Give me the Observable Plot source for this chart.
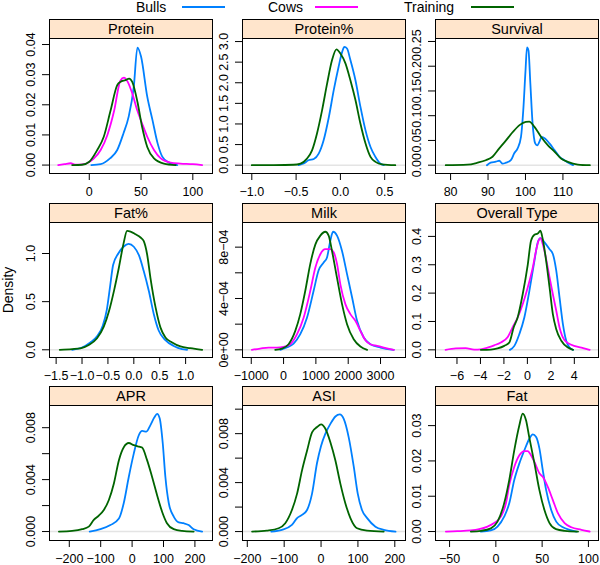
<!DOCTYPE html>
<html><head><meta charset="utf-8">
<script src="https://cdn.jsdelivr.net/npm/d3@7"></script>
<script src="https://cdn.jsdelivr.net/npm/@observablehq/plot@0.6"></script>
<style>
body{margin:0;background:#fff;}
#wrap{position:relative;width:600px;height:565px;background:#fff;font-family:"Liberation Sans",Arial,sans-serif;overflow:hidden;color:#000}
.strip{position:absolute;box-sizing:border-box;height:20px;background:#ffe5cc;border:1px solid #000;font-size:14.5px;text-align:center;line-height:18px;}
.panel{position:absolute}
.leg{position:absolute;font-size:14px;line-height:14px;top:0px;white-space:nowrap}
.legline{position:absolute;height:2px;top:6px}
#ylab{position:absolute;left:7.5px;top:289.5px;font-size:14px;transform:translate(-50%,-50%) rotate(-90deg);white-space:nowrap}
</style></head>
<body>
<div id="wrap"></div>
<script>
// ---------- data ----------
const panelNames = ["Protein", "Protein%", "Survival", "Fat%", "Milk", "Overall Type", "APR", "ASI", "Fat"];
const seriesNames = ["Bulls", "Cows", "Training"];
const seriesColors = ["#0080ff", "#ff00ff", "#006400"];

// density curves: [value, density]
const proteinBulls = [[2,0],[11,0.0003],[20,0.0022],[27,0.005],[33,0.0105],[38,0.016],[43,0.026],[46.5,0.039],[50,0.036],[56,0.0227],[61,0.015],[66,0.0072],[70.5,0.0028],[77,0.0008],[85,0]];
const proteinCows = [[-30,0],[-24,0.0003],[-18,0.0006],[-13,0.0001],[-5,0.0003],[4.5,0.0022],[11,0.005],[17.5,0.01],[24,0.018],[30,0.028],[33.5,0.029],[37,0.0277],[41.5,0.0238],[46.5,0.018],[51,0.0138],[56,0.0094],[62.5,0.005],[69,0.0022],[78.5,0.0008],[88,0.0005],[100,0.0003],[109,0]];
const proteinTraining = [[-16.5,0],[-7,0.0001],[0,0.0011],[7.7,0.005],[14,0.0094],[20.5,0.018],[27,0.0265],[30,0.0276],[35,0.0282],[38.5,0.0287],[41.5,0.0276],[46.5,0.021],[51,0.0127],[56,0.006],[62.5,0.0022],[72,0.0005],[83.5,0]];

const proteinPctBulls = [[-0.47,0],[-0.415,0.04],[-0.36,0.12],[-0.3,0.15],[-0.245,0.28],[-0.19,0.6],[-0.13,1.17],[-0.075,1.82],[-0.02,2.39],[0.02,2.75],[0.045,2.87],[0.075,2.83],[0.113,2.55],[0.17,2.06],[0.226,1.42],[0.283,0.85],[0.34,0.44],[0.396,0.2],[0.45,0.04],[0.49,0]];
const proteinPctTraining = [[-1.0,0],[-0.75,0.002],[-0.53,0.01],[-0.45,0.04],[-0.377,0.16],[-0.32,0.36],[-0.264,0.77],[-0.207,1.33],[-0.15,1.98],[-0.094,2.55],[-0.045,2.81],[0,2.71],[0.057,2.47],[0.113,2.06],[0.17,1.58],[0.226,1.01],[0.283,0.53],[0.34,0.2],[0.396,0.08],[0.47,0.02],[0.62,0]];

const survivalBulls = [[89.7,0],[90.7,0.005],[92.1,0.007],[93,0.009],[93.9,0.003],[94.8,0.005],[96.1,0.01],[97,0.024],[97.9,0.034],[98.8,0.057],[99.4,0.11],[100,0.19],[100.4,0.238],[100.8,0.232],[101.3,0.165],[101.9,0.084],[102.6,0.044],[103.1,0.04],[103.7,0.047],[104.3,0.057],[105.2,0.054],[106.4,0.044],[107.8,0.03],[109.1,0.017],[110.4,0.01],[111.8,0.0034],[112.7,0]];
const survivalTraining = [[78.7,0],[84.5,0.001],[87.2,0.005],[89.4,0.01],[91.2,0.017],[93,0.034],[94.8,0.05],[96.6,0.067],[98.4,0.081],[100.1,0.0876],[101,0.088],[102.4,0.0775],[104.2,0.057],[106,0.04],[107.8,0.027],[109.5,0.0135],[111.3,0.0067],[114,0.0013],[117.2,0]];

const fatPctBulls = [[-1.19,0],[-1.0,0.024],[-0.84,0.076],[-0.71,0.14],[-0.6,0.25],[-0.52,0.42],[-0.46,0.65],[-0.4,0.88],[-0.3,1.0],[-0.2,1.07],[-0.1,1.1],[0,1.07],[0.1,0.98],[0.19,0.82],[0.29,0.61],[0.386,0.37],[0.48,0.2],[0.61,0.1],[0.77,0.04],[0.93,0.007],[1.03,0]];
const fatPctTraining = [[-1.43,0],[-1.19,0.007],[-1.03,0.015],[-0.87,0.05],[-0.71,0.12],[-0.58,0.24],[-0.48,0.4],[-0.38,0.62],[-0.29,0.85],[-0.2,1.1],[-0.13,1.235],[-0.064,1.228],[0.032,1.2],[0.13,1.166],[0.19,1.13],[0.257,0.99],[0.32,0.75],[0.42,0.44],[0.515,0.23],[0.61,0.128],[0.74,0.076],[0.9,0.035],[1.09,0.017],[1.32,0]];

const milkBulls = [[-100,0],[100,1.8e-5],[310,4.9e-5],[517,1.22e-4],[724,2.5e-4],[930,4.6e-4],[1085,6.2e-4],[1240,6.8e-4],[1344,7.2e-4],[1447,8.5e-4],[1530,9.2e-4],[1654,8.9e-4],[1809,7.7e-4],[1964,5.9e-4],[2119,4.1e-4],[2274,2.26e-4],[2481,9.6e-5],[2687,4.4e-5],[2997,1.8e-5],[3411,0]];
const milkCows = [[-982,0],[-724,1e-5],[-465,1.8e-5],[-207,1.8e-5],[0,2.3e-5],[207,4.4e-5],[413,1.2e-4],[620,2.5e-4],[827,4.6e-4],[982,6.4e-4],[1137,7.45e-4],[1292,7.84e-4],[1447,7.84e-4],[1550,7.6e-4],[1654,6.7e-4],[1757,5.1e-4],[1912,3.56e-4],[2067,2.78e-4],[2222,2.26e-4],[2377,1.48e-4],[2532,7.5e-5],[2687,4.4e-5],[2894,3.1e-5],[3101,1.8e-5],[3411,0]];
const milkTraining = [[-258,0],[-52,1e-5],[155,4.4e-5],[362,1.48e-4],[517,2.78e-4],[672,4.6e-4],[827,6.7e-4],[982,8.2e-4],[1137,8.9e-4],[1292,9.2e-4],[1395,8.9e-4],[1499,7.7e-4],[1654,5.6e-4],[1809,3.56e-4],[1964,2.0e-4],[2170,8.3e-5],[2377,2.6e-5],[2584,0]];

const overallBulls = [[-1.49,0],[-1.11,0.014],[-0.69,0.055],[-0.26,0.114],[0.17,0.208],[0.6,0.314],[0.886,0.379],[1.11,0.394],[1.46,0.379],[1.89,0.355],[2.17,0.338],[2.46,0.279],[2.74,0.185],[3.03,0.09],[3.31,0.032],[3.6,0.008],[3.89,0]];
const overallCows = [[-6.97,0],[-6.1,0.005],[-5.26,0.006],[-4.54,0.001],[-3.97,0.002],[-3.4,0.008],[-2.83,0.016],[-2.26,0.026],[-1.69,0.044],[-1.26,0.079],[-0.83,0.114],[-0.4,0.161],[0.03,0.22],[0.457,0.29],[0.74,0.35],[0.97,0.387],[1.11,0.394],[1.31,0.373],[1.6,0.32],[1.89,0.255],[2.17,0.196],[2.46,0.138],[2.74,0.079],[3.17,0.034],[3.74,0.018],[4.6,0.008],[5.31,0]];
const overallTraining = [[-3.97,0],[-3.11,0.001],[-2.54,0.005],[-1.97,0.014],[-1.54,0.026],[-1.17,0.079],[-0.83,0.114],[-0.4,0.196],[0.03,0.3],[0.31,0.385],[0.6,0.406],[0.886,0.41],[1.11,0.42],[1.31,0.39],[1.6,0.314],[1.89,0.22],[2.17,0.126],[2.46,0.073],[2.89,0.032],[3.46,0.008],[3.89,0]];

const aprBulls = [[-135,0],[-101,0.00018],[-69,0.0005],[-42,0.001],[-26.5,0.0022],[-10.6,0.0042],[5.3,0.006],[21,0.0074],[32,0.00775],[45.6,0.0077],[58.4,0.0082],[71,0.0088],[79.6,0.00907],[88,0.0087],[97.6,0.0068],[106,0.0042],[116.7,0.0022],[132.6,0.00115],[148.5,0.0007],[164.5,0.00064],[180,0.0005],[196,0.00018],[223,0]];
const aprTraining = [[-233,0],[-191,0.00005],[-159,0.00018],[-138,0.00038],[-122,0.0009],[-106,0.00123],[-90,0.00166],[-74,0.00243],[-58,0.0037],[-42,0.0055],[-26.5,0.0065],[-10.6,0.00682],[5.3,0.00665],[18,0.00657],[31.8,0.00647],[47.7,0.0055],[63.7,0.0042],[79.6,0.0028],[95.5,0.00153],[111,0.00064],[132.6,0.00018],[159,0.00005],[196,0]];

const asiBulls = [[-135,0],[-106,0.00014],[-79,0.00054],[-65,0.0011],[-51.6,0.00136],[-38,0.00176],[-24.4,0.0031],[-10.9,0.0056],[0,0.007],[11.8,0.008],[25.3,0.0088],[38.9,0.0094],[50.7,0.00957],[61.5,0.0092],[75,0.0077],[88.7,0.0053],[99.5,0.0031],[111,0.00176],[125,0.0011],[147.5,0.0004],[170,0.00014],[202,0]];
const asiTraining = [[-187,0],[-147,0.00008],[-115,0.00027],[-97,0.00068],[-79,0.00176],[-65,0.0031],[-51.6,0.005],[-38,0.0066],[-24.4,0.0081],[-10.9,0.00854],[0,0.00876],[11.8,0.0084],[25.3,0.0073],[38.9,0.0058],[52.5,0.0039],[66,0.0023],[79.6,0.0011],[97.7,0.00027],[125,0.00008],[170,0]];

const fatBulls = [[-16.3,0],[-5.4,0.0003],[1.8,0.0014],[9,0.0042],[14.5,0.008],[19.9,0.0146],[25.4,0.0193],[30.8,0.023],[36.2,0.0263],[39.9,0.0275],[43.5,0.0268],[47.1,0.0235],[50.7,0.0174],[54.3,0.0118],[59.8,0.0061],[65.2,0.0028],[72.5,0.0012],[79.7,0.0005],[87,0]];
const fatCows = [[-54,0],[-41.7,0.0001],[-27,0.0003],[-18,0.00066],[-9,0.0014],[-1.8,0.0024],[5.4,0.0042],[10.9,0.008],[14.5,0.0132],[19.9,0.0183],[25.4,0.0216],[30.8,0.0228],[34.4,0.0228],[38,0.0216],[42.4,0.0193],[47,0.0165],[50.7,0.0155],[56,0.0127],[61.6,0.0089],[67,0.0052],[74.3,0.0024],[81.5,0.0012],[92.4,0.0005],[101.4,0]];
const fatTraining = [[-27,0],[-16,0.0002],[-5.4,0.0009],[1.8,0.0028],[9,0.008],[14.5,0.0146],[19.9,0.023],[25.4,0.0301],[29,0.0334],[32.6,0.0315],[36,0.0268],[41.7,0.0193],[47,0.0118],[52.5,0.0061],[58,0.0024],[65,0.00066],[74.3,0.0002],[88.8,0]];

// tick values and labels
const proteinXTicks = [0, 50, 100];             const proteinXLabels = ["0", "50", "100"];
const proteinYTicks = [0, 0.01, 0.02, 0.03, 0.04]; const proteinYLabels = ["0.00", "0.01", "0.02", "0.03", "0.04"];
const proteinPctXTicks = [-1, -0.5, 0, 0.5];   const proteinPctXLabels = ["−1.0", "−0.5", "0.0", "0.5"];
const proteinPctYTicks = [0, 0.5, 1, 1.5, 2, 2.5, 3]; const proteinPctYLabels = ["0.0", "0.5", "1.0", "1.5", "2.0", "2.5", "3.0"];
const survivalXTicks = [80, 90, 100, 110];     const survivalXLabels = ["80", "90", "100", "110"];
const survivalYTicks = [0, 0.05, 0.1, 0.15, 0.2, 0.25]; const survivalYLabels = ["0.00", "0.05", "0.10", "0.15", "0.20", "0.25"];
const fatPctXTicks = [-1.5, -1, -0.5, 0, 0.5, 1]; const fatPctXLabels = ["−1.5", "−1.0", "−0.5", "0.0", "0.5", "1.0"];
const fatPctYTicks = [0, 0.5, 1];              const fatPctYLabels = ["0.0", "0.5", "1.0"];
const milkXTicks = [-1000, 0, 1000, 2000, 3000]; const milkXLabels = ["−1000", "0", "1000", "2000", "3000"];
const milkYTicks = [0, 2e-4, 4e-4, 6e-4, 8e-4]; const milkYLabels = ["0e+00", "", "4e−04", "", "8e−04"];
const overallXTicks = [-6, -4, -2, 0, 2, 4];   const overallXLabels = ["−6", "−4", "−2", "0", "2", "4"];
const overallYTicks = [0, 0.1, 0.2, 0.3, 0.4]; const overallYLabels = ["0.0", "0.1", "0.2", "0.3", "0.4"];
const aprXTicks = [-200, -100, 0, 100, 200];   const aprXLabels = ["−200", "−100", "0", "100", "200"];
const aprYTicks = [0, 0.002, 0.004, 0.006, 0.008]; const aprYLabels = ["0.000", "", "0.004", "", "0.008"];
const asiXTicks = [-200, -100, 0, 100, 200];   const asiXLabels = ["−200", "−100", "0", "100", "200"];
const asiYTicks = [0, 0.002, 0.004, 0.006, 0.008, 0.01]; const asiYLabels = ["0.000", "", "0.004", "", "0.008", ""];
const fatXTicks = [-50, 0, 50, 100];           const fatXLabels = ["−50", "0", "50", "100"];
const fatYTicks = [0, 0.01, 0.02, 0.03];       const fatYLabels = ["0.00", "0.01", "0.02", "0.03"];

// ---------- scale settings (domains of each panel) ----------
const panels = [
  {series: [proteinBulls, proteinCows, proteinTraining], xd: [-38.4, 119], yd: [-0.0028, 0.042], xt: proteinXTicks, xl: proteinXLabels, yt: proteinYTicks, yl: proteinYLabels},
  {series: [proteinPctBulls, null, proteinPctTraining], xd: [-1.105, 0.735], yd: [-0.202, 3.074], xt: proteinPctXTicks, xl: proteinPctXLabels, yt: proteinPctYTicks, yl: proteinPctYLabels},
  {series: [survivalBulls, null, survivalTraining], xd: [75.97, 119.5], yd: [-0.0168, 0.256], xt: survivalXTicks, xl: survivalXLabels, yt: survivalYTicks, yl: survivalYLabels},
  {series: [fatPctBulls, null, fatPctTraining], xd: [-1.628, 1.519], yd: [-0.08, 1.322], xt: fatPctXTicks, xl: fatPctXLabels, yt: fatPctYTicks, yl: fatPctYLabels},
  {series: [milkBulls, milkCows, milkTraining], xd: [-1271, 3773], yd: [-5.97e-5, 9.92e-4], xt: milkXTicks, xl: milkXLabels, yt: milkYTicks, yl: milkYLabels},
  {series: [overallBulls, overallCows, overallTraining], xd: [-7.83, 6.06], yd: [-0.027, 0.449], xt: overallXTicks, xl: overallXLabels, yt: overallYTicks, yl: overallYLabels},
  {series: [aprBulls, null, aprTraining], xd: [-263, 256], yd: [-0.00069, 0.00971], xt: aprXTicks, xl: aprXLabels, yt: aprYTicks, yl: aprYLabels},
  {series: [asiBulls, null, asiTraining], xd: [-213, 229], yd: [-0.00073, 0.0103], xt: asiXTicks, xl: asiXLabels, yt: asiYTicks, yl: asiYLabels},
  {series: [fatBulls, fatCows, fatTraining], xd: [-65.2, 110.9], yd: [-0.00254, 0.0357], xt: fatXTicks, xl: fatXLabels, yt: fatYTicks, yl: fatYLabels}
];

// ---------- layout ----------
const wrap = document.getElementById("wrap");
const colLeft = [49, 242, 435], rowTop = [38, 222, 405];
const PW = 163, PH = 135, ML = 49, MB = 32;

// legend
const legTextX = [136, 268, 404], legLineX = [182, 315, 471], legLineW = 43;
seriesNames.forEach((n, k) => {
  const t = document.createElement("div"); t.className = "leg"; t.style.left = legTextX[k] + "px"; t.textContent = n; wrap.appendChild(t);
  const l = document.createElement("div"); l.className = "legline"; l.style.left = legLineX[k] + "px"; l.style.width = legLineW + "px"; l.style.background = seriesColors[k]; wrap.appendChild(l);
});
const yl = document.createElement("div"); yl.id = "ylab"; yl.textContent = "Density"; wrap.appendChild(yl);

panels.forEach((p, i) => {
  const c = i % 3, r = Math.floor(i / 3);
  const data = [];
  p.series.forEach((s, k) => { if (s) s.forEach(([x, y]) => data.push({x, y, series: seriesNames[k]})); });
  const chart = Plot.plot({
    width: ML + PW + 1, height: 1 + PH + MB,
    marginLeft: ML, marginRight: 1, marginTop: 1, marginBottom: MB,
    style: {fontSize: "12.5px", fontFamily: "'Liberation Sans', Arial, sans-serif", background: "transparent", color: "#000", overflow: "visible"},
    x: {domain: p.xd, ticks: p.xt, tickFormat: d => p.xl[p.xt.indexOf(d)], tickSize: 7, tickPadding: 7, label: null},
    y: {domain: p.yd, ticks: p.yt, tickFormat: d => p.yl[p.yt.indexOf(d)], tickSize: 7, tickPadding: 8, tickRotate: -90, label: null},
    color: {domain: seriesNames, range: seriesColors},
    marks: [
      Plot.ruleY([0], {stroke: "#e4e4e4", strokeWidth: 1.5}),
      Plot.line(data, {x: "x", y: "y", z: "series", stroke: "series", strokeWidth: 1.8, curve: "monotone-x"}),
      Plot.frame({stroke: "#000"})
    ]
  });
  chart.classList.add("panel");
  chart.style.left = (colLeft[c] - ML) + "px";
  chart.style.top = (rowTop[r] - 1) + "px";
  wrap.appendChild(chart);
  const strip = document.createElement("div");
  strip.className = "strip";
  strip.style.left = colLeft[c] + "px";
  strip.style.top = (rowTop[r] - 19) + "px";
  strip.style.width = (PW + 1) + "px";
  strip.textContent = panelNames[i];
  wrap.appendChild(strip);
});
</script>
</body></html>
